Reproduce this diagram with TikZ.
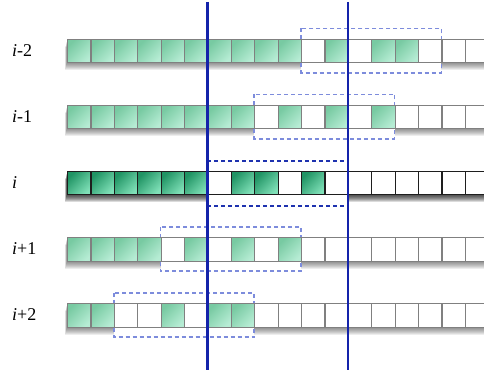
\documentclass[tikz,border=0pt]{standalone}
\usepackage{fontspec}
\setmainfont{Liberation Serif}
\definecolor{lgA}{RGB}{120,202,162}
\definecolor{lgB}{RGB}{182,236,212}
\definecolor{dgA}{RGB}{32,148,100}
\definecolor{dgB}{RGB}{128,224,184}
\definecolor{cellgray}{RGB}{128,128,128}
\definecolor{celldark}{RGB}{30,30,30}
\definecolor{lineblue}{RGB}{20,35,170}
\definecolor{boxblue}{RGB}{125,140,220}
\definecolor{dashdark}{RGB}{30,50,175}
\begin{document}
\begin{tikzpicture}[x=1pt,y=-1pt,
  basecell/.style={line width=1.1pt, inner sep=0pt, minimum width=23.4pt, minimum height=23.3pt, anchor=north west},
  lgreen/.style={basecell, draw=cellgray, top color=lgA, bottom color=lgB, shading angle=45},
  lwhite/.style={basecell, draw=cellgray, fill=white},
  dgreen/.style={basecell, draw=celldark, top color=dgA, bottom color=dgB, shading angle=45},
  dwhite/.style={basecell, draw=celldark, fill=white},
  boxdash/.style={draw=boxblue, fill=white, line width=1.7pt, dash pattern=on 4pt off 3pt},
  rowdash/.style={draw=dashdark, line width=1.7pt, dash pattern=on 4pt off 3pt},
  vline/.style={draw=lineblue, line width=2.4pt},
  rowlabel/.style={anchor=west, inner sep=0pt, font=\fontsize{18}{21}\selectfont}]
\useasboundingbox (0,0) rectangle (484,374);
\clip (0,0) rectangle (484,374);
% shadows
\foreach \t/\op in {39/0.07,105/0.07,171/0.14,237.3/0.07,303.3/0.07}{
  \foreach \k in {1,...,8}{
    \fill[black,opacity=\op] (67-0.25*\k, \t+\k) rectangle (490, \t+23.3+\k);
  }
}
% dashed boxes
\foreach \a/\b/\t in {10/16/39, 8/14/105, 4/10/237.3, 2/8/303.3}{
  \draw[boxdash] (67+\a*23.4, \t-10.5) rectangle (67+\b*23.4, \t+23.3+10.5);
}
\fill[white] (207.4,160.7) rectangle (347.8,205.7);
\coordinate (dA) at (207.4,160.7);
\coordinate (dB) at (345,160.7);
\coordinate (dC) at (207.4,205.7);
\coordinate (dD) at (347,205.7);
\draw[rowdash] (dA) -- (dB);
\draw[rowdash] (dC) -- (dD);
% cells
\foreach \r/\t/\pat in {
  a/39/{1,1,1,1,1,1,1,1,1,1,0,1,0,1,1,0,0,0},
  b/105/{1,1,1,1,1,1,1,1,0,1,0,1,0,1,0,0,0,0},
  d/237.3/{1,1,1,1,0,1,0,1,0,1,0,0,0,0,0,0,0,0},
  e/303.3/{1,1,0,0,1,0,1,1,0,0,0,0,0,0,0,0,0,0}}{
  \foreach \v [count=\c from 0] in \pat {
    \ifnum\v=1
      \node[lgreen] (\r\c) at (67+\c*23.4, \t) {};
    \else
      \node[lwhite] (\r\c) at (67+\c*23.4, \t) {};
    \fi
  }
}
\foreach \v [count=\c from 0] in {1,1,1,1,1,1,0,1,1,0,1,0,0,0,0,0,0,0} {
  \ifnum\v=1
    \node[dgreen] (c\c) at (67+\c*23.4, 171) {};
  \else
    \node[dwhite] (c\c) at (67+\c*23.4, 171) {};
  \fi
}
% vertical lines
\coordinate (vA1) at (207.6,2);
\coordinate (vA2) at (207.6,370);
\coordinate (vB1) at (348,2);
\coordinate (vB2) at (348,370);
\draw[vline] (vA1) -- (vA2);
\draw[vline] (vB1) -- (vB2);
% labels
\node[rowlabel] (la) at (12,50.6) {\textit{i}-2};
\node[rowlabel] (lb) at (12,116.6) {\textit{i}-1};
\node[rowlabel] (lc) at (12,182.6) {\textit{i}};
\node[rowlabel] (ld) at (12,249) {\textit{i}+1};
\node[rowlabel] (le) at (12,315) {\textit{i}+2};
\end{tikzpicture}
\end{document}
